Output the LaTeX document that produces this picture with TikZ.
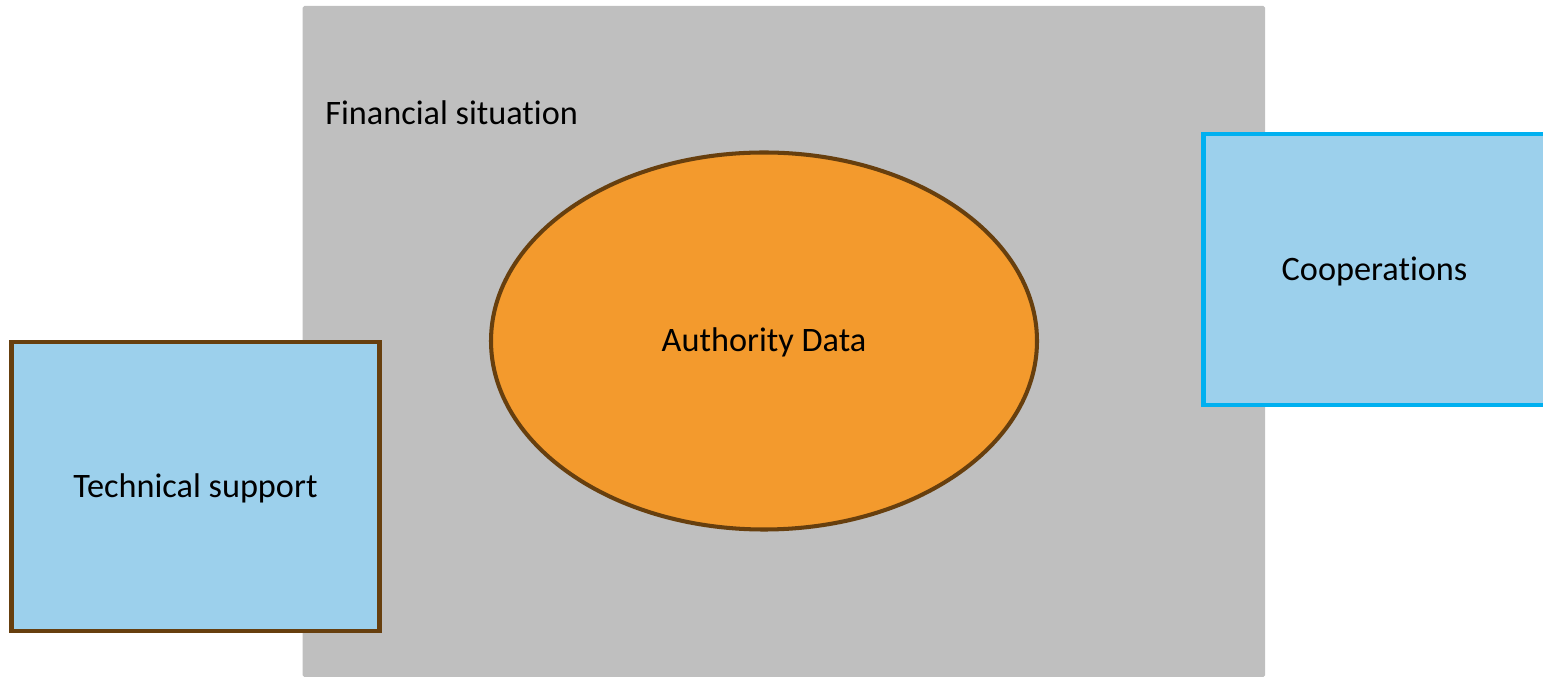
\documentclass[tikz,border=0pt]{standalone}
\usepackage{fontspec}
\setmainfont[Ligatures=CommonOff]{Carlito}
\definecolor{bgray}{HTML}{BFBFBF}
\definecolor{lblue}{HTML}{9CD0EC}
\definecolor{dbrown}{HTML}{673F0E}
\definecolor{cyanb}{HTML}{00B0F0}
\definecolor{orng}{HTML}{F39A2D}
\tikzset{
  lbl/.style={font=\fontsize{19.5}{23}\selectfont},
  box/.style={lbl,rectangle,fill=lblue,line width=2.6pt,inner sep=0pt,text height=16pt,text depth=4pt},
  oval/.style={lbl,ellipse,fill=orng,draw=dbrown,line width=2.3pt,inner sep=0pt,text height=16pt,text depth=4pt}
}
\usetikzlibrary{shapes.geometric}
\begin{document}
\begin{tikzpicture}
	    \useasboundingbox (0,0) rectangle (30.86,13.54);
	    \fill[bgray,rounded corners=1pt](6.05,0) rectangle (25.3,13.42);
	    \node[lbl,anchor=base west,inner sep=0pt] (fin) at (6.5,11.04) {Financial situation};
	    \node[oval,minimum width=10.92cm,minimum height=7.54cm] (auth) at (15.28,6.72) {Authority Data};
	    \node[box,draw=dbrown,minimum width=7.36cm,minimum height=5.78cm] (tech) at (3.91,3.81) {Technical support};
	    \node[box,draw=cyanb,line width=2.3pt,minimum width=6.84cm,minimum height=5.42cm] (coop) at (27.49,8.15) {Cooperations};
\end{tikzpicture}
\end{document}
